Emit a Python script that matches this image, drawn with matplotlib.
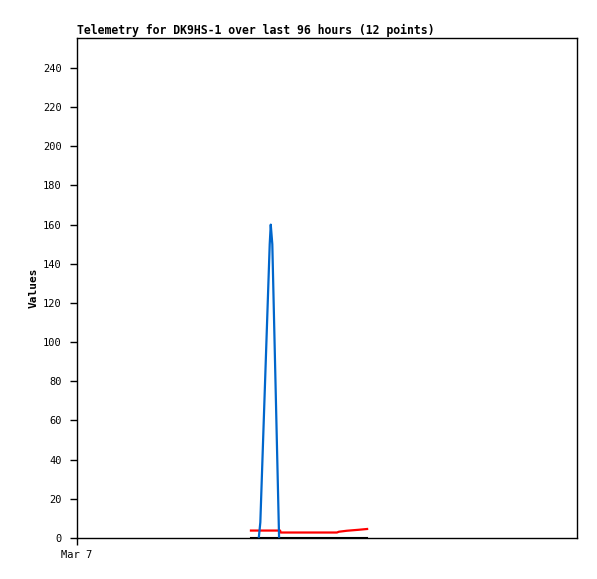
import numpy as np
import matplotlib.pyplot as plt

# hours since Mar 7 00:00, window of 96 hours
blue_t = [34.9, 35.2, 37.0, 37.2, 37.35, 37.5, 38.8]
blue_v = [0.0, 8.0, 150.0, 160.0, 155.0, 150.0, 0.0]

red_t = [33.4, 39.0, 39.1, 49.9, 50.3, 51.8, 54.1, 55.7]
red_v = [3.8, 3.8, 2.8, 2.8, 3.2, 3.7, 4.2, 4.6]

black_t = [33.4, 55.7]
black_v = [0.0, 0.0]

yticks = np.arange(0, 241, 20)

fig = plt.figure(figsize=(5.97, 5.79), dpi=100)
ax = fig.add_axes([77/597, 41/579, 500/597, 500/579])

ax.plot(black_t, black_v, color='black', lw=1.5)
ax.plot(red_t, red_v, color='#ff0000', lw=1.6)
ax.plot(blue_t, blue_v, color='#0066cc', lw=1.6)

ax.set_xlim(0, 96)
ax.set_ylim(0, 255.3)
ax.set_yticks(yticks)
ax.set_yticklabels([str(v) for v in yticks], family='DejaVu Sans Mono', fontsize=7.5)
ax.set_xticks([0])
ax.set_xticklabels(['Mar 7'], family='DejaVu Sans Mono', fontsize=7.5)
ax.tick_params(direction='out', length=5, width=1)
ax.tick_params(axis='y', pad=6)
for s in ax.spines.values():
    s.set_linewidth(1)

ax.set_ylabel('Values', family='DejaVu Sans Mono', fontweight='bold', fontsize=8, labelpad=3)
ax.set_title('Telemetry for DK9HS-1 over last 96 hours (12 points)', loc='left',
             family='DejaVu Sans Mono', fontweight='bold', fontsize=8.3, pad=3)

fig.savefig('out.png', dpi=100)
